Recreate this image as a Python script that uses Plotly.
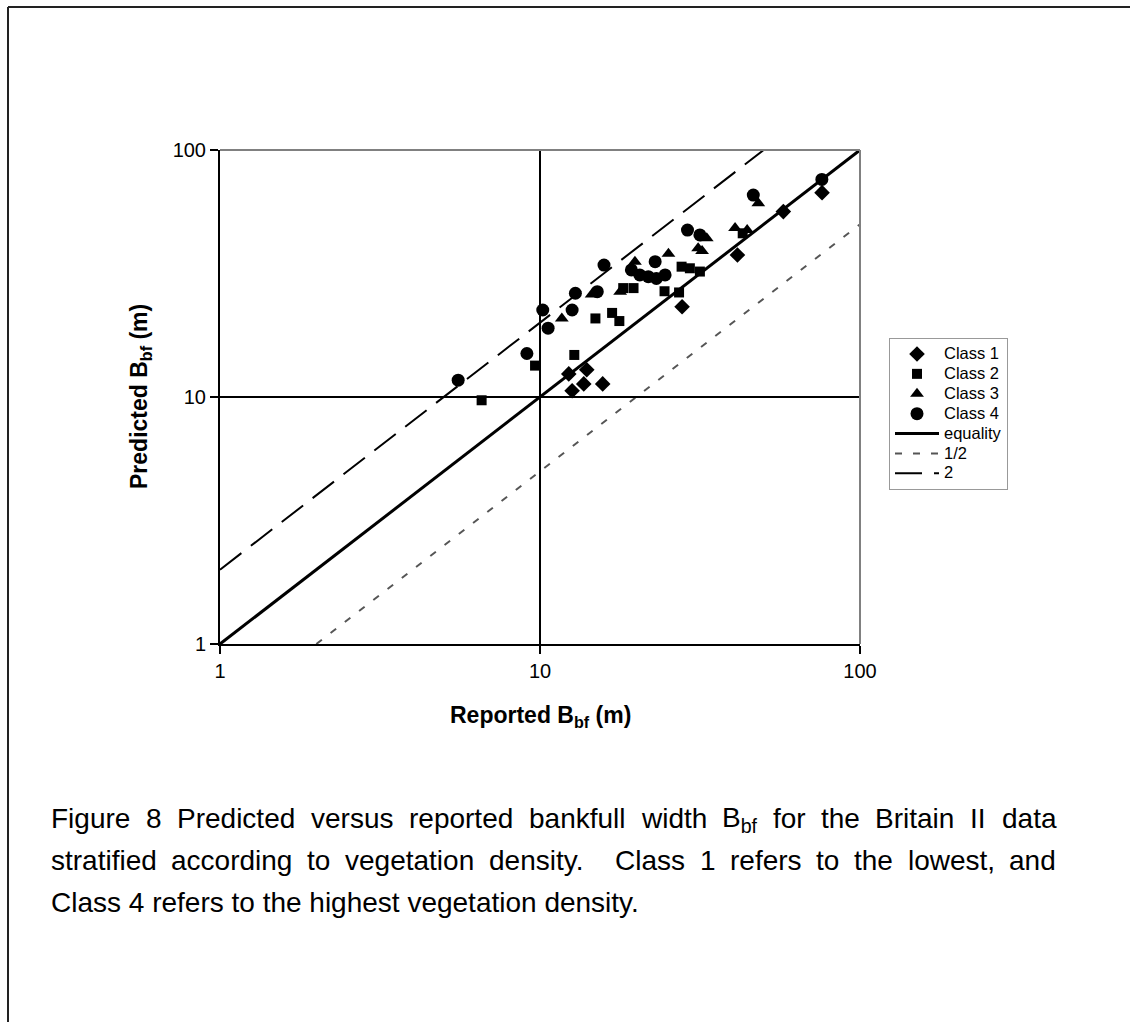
import plotly.graph_objects as go

# ---- data ----
c1_x = [12.3, 14.0, 13.7, 15.7, 12.6, 27.8, 41.4, 57.6, 76.1]
c1_y = [12.4, 12.9, 11.3, 11.3, 10.6, 23.2, 37.6, 56.3, 67.2]

c2_x = [6.57, 9.65, 12.8, 14.9, 16.8, 17.7, 18.2, 19.6, 24.5, 27.2, 27.7, 29.4, 31.6, 43.0]
c2_y = [9.7, 13.4, 14.8, 20.8, 21.9, 20.3, 27.6, 27.6, 26.8, 26.5, 33.7, 33.2, 32.2, 46.0]

c3_x = [11.7, 14.5, 17.8, 19.8, 25.2, 31.2, 32.1, 33.2, 40.7, 44.4, 48.1]
c3_y = [20.8, 26.0, 26.7, 35.3, 38.0, 40.0, 39.0, 43.9, 48.3, 47.4, 60.9]

c4_x = [5.55, 9.1, 10.2, 10.6, 12.6, 12.9, 15.1, 15.85, 19.3, 20.5, 21.8, 22.9, 23.1, 24.6, 28.9, 31.6, 46.4, 76.0]
c4_y = [11.7, 15.0, 22.5, 19.0, 22.5, 26.3, 26.7, 34.2, 32.7, 31.2, 30.7, 35.3, 30.2, 31.2, 47.4, 45.3, 65.7, 76.0]

eq_x = [1, 100]
eq_y = [1, 100]
half_x = [2, 100]
half_y = [1, 50]
dbl_x = [1, 50]
dbl_y = [2, 100]

tick_vals = [1, 10, 100]
tick_text = ["1", "10", "100"]

caption_lines = [
    "Figure 8 Predicted versus reported bankfull width B<sub>bf</sub> for the Britain II data",
    "stratified according to vegetation density.  Class 1 refers to the lowest, and",
    "Class 4 refers to the highest vegetation density.",
]

FONT = "Liberation Sans, Arial, sans-serif"

# plot-area geometry in pixels
L, R, T, B = 220, 860, 150, 644
PW, PH = R - L, B - T


def px_x(p):
    return (p - L) / PW


def px_y(p):
    return (B - p) / PH


# Arial / Liberation Sans advance widths (per 1000 em) for caption justification
AW = {' ': 278, 'a': 556, 'b': 556, 'c': 500, 'd': 556, 'e': 556, 'f': 278, 'g': 556,
      'h': 556, 'i': 222, 'j': 222, 'k': 500, 'l': 222, 'm': 833, 'n': 556, 'o': 556,
      'p': 556, 'q': 556, 'r': 333, 's': 500, 't': 278, 'u': 556, 'v': 500, 'w': 722,
      'x': 500, 'y': 500, 'z': 500, 'B': 667, 'C': 722, 'F': 611, 'I': 278, 'P': 667,
      '.': 278, ',': 278, '/': 278}
for d in "0123456789":
    AW[d] = 556


def word_width(word, size):
    w = 0.0
    if "<sub>" in word:
        pre, tail = word.split("<sub>", 1)
        sub, post = tail.split("</sub>", 1)
        w += sum(AW.get(ch, 556) for ch in pre)
        w += 0.7 * sum(AW.get(ch, 556) for ch in sub)
        w += sum(AW.get(ch, 556) for ch in post)
    else:
        w += sum(AW.get(ch, 556) for ch in word)
    return w / 1000.0 * size


fig = go.Figure()

fig.add_trace(go.Scatter(x=c1_x, y=c1_y, mode="markers", name="Class 1",
                         marker=dict(symbol="diamond", size=12, color="black")))
fig.add_trace(go.Scatter(x=c2_x, y=c2_y, mode="markers", name="Class 2",
                         marker=dict(symbol="square", size=10, color="black")))
fig.add_trace(go.Scatter(x=c3_x, y=c3_y, mode="markers", name="Class 3",
                         marker=dict(symbol="triangle-up", size=12, color="black")))
fig.add_trace(go.Scatter(x=c4_x, y=c4_y, mode="markers", name="Class 4",
                         marker=dict(symbol="circle", size=13, color="black")))
fig.add_trace(go.Scatter(x=eq_x, y=eq_y, mode="lines", name="equality",
                         line=dict(color="black", width=3)))
fig.add_trace(go.Scatter(x=half_x, y=half_y, mode="lines", name="1/2",
                         line=dict(color="#555555", width=2, dash="7px,11px")))
fig.add_trace(go.Scatter(x=dbl_x, y=dbl_y, mode="lines", name="2",
                         line=dict(color="black", width=2, dash="27px,12px")))

# legend names with larger visible text but compact row spacing
for tr in fig.data:
    tr.name = '<span style="font-size:16.5px">' + tr.name + '</span>'

axis_common = dict(
    type="log", range=[0, 2], tickvals=tick_vals, ticktext=tick_text,
    showgrid=False, zeroline=False, showline=True, linecolor="black", linewidth=2,
    ticks="outside", ticklen=8, tickwidth=2, tickcolor="black",
    tickfont=dict(family=FONT, size=20, color="black"),
)
fig.update_xaxes(**axis_common)
fig.update_yaxes(**axis_common)

shapes = [
    # gridlines at 10
    dict(type="line", xref="x", yref="paper", x0=10, x1=10, y0=0, y1=1,
         line=dict(color="black", width=2)),
    dict(type="line", xref="paper", yref="y", x0=0, x1=1, y0=10, y1=10,
         line=dict(color="black", width=2)),
    # top and right plot borders (grey)
    dict(type="line", xref="paper", yref="paper", x0=0, x1=1, y0=1, y1=1,
         line=dict(color="#808080", width=2)),
    dict(type="line", xref="paper", yref="paper", x0=1, x1=1, y0=0, y1=1,
         line=dict(color="#808080", width=2)),
    # outer frame (top and left only)
    dict(type="line", xref="paper", yref="paper", x0=px_x(8), x1=px_x(1130),
         y0=px_y(7), y1=px_y(7), line=dict(color="#222222", width=2)),
    dict(type="line", xref="paper", yref="paper", x0=px_x(8), x1=px_x(8),
         y0=px_y(7), y1=px_y(1022), line=dict(color="#222222", width=2)),
]

annotations = [
    dict(text="<b>Reported B<sub>bf</sub> (m)</b>", xref="paper", yref="paper",
         x=px_x(540), y=px_y(716), showarrow=False, xanchor="center", yanchor="middle",
         font=dict(family=FONT, size=23, color="black")),
    dict(text="<b>Predicted B<sub>bf</sub> (m)</b>", xref="paper", yref="paper",
         x=px_x(140), y=px_y(397), showarrow=False, textangle=-90,
         xanchor="center", yanchor="middle",
         font=dict(family=FONT, size=23, color="black")),
]

CAP_SIZE = 28
CAP_LEFT, CAP_RIGHT = 50, 1055
cap_y = [818, 860, 902]
for i, line in enumerate(caption_lines):
    ypos = px_y(cap_y[i])
    if i < len(caption_lines) - 1:
        # justified line: place words individually
        parts = line.split(" ")
        words, weights = [], []
        for p in parts:
            if p == "":
                weights[-1] += 1
            else:
                words.append(p)
                weights.append(1)
        gap_w = weights[:-1]
        total_w = sum(word_width(w, CAP_SIZE) for w in words)
        unit = (CAP_RIGHT - CAP_LEFT - total_w) / sum(gap_w)
        x = CAP_LEFT
        for j, w in enumerate(words):
            annotations.append(dict(text=w, xref="paper", yref="paper",
                                    x=px_x(x - 1), y=ypos, showarrow=False,
                                    xanchor="left", yanchor="middle",
                                    yshift=-1.5 if "<sub>" in w else 0,
                                    font=dict(family=FONT, size=CAP_SIZE, color="black")))
            x += word_width(w, CAP_SIZE)
            if j < len(gap_w):
                x += unit * gap_w[j]
    else:
        annotations.append(dict(text=line, xref="paper", yref="paper",
                                x=px_x(CAP_LEFT - 1), y=ypos, showarrow=False,
                                xanchor="left", yanchor="middle",
                                font=dict(family=FONT, size=CAP_SIZE, color="black")))

fig.update_layout(
    width=1130, height=1022,
    margin=dict(l=L, r=1130 - R, t=T, b=1022 - B),
    plot_bgcolor="white", paper_bgcolor="white",
    shapes=shapes, annotations=annotations,
    showlegend=True,
    legend=dict(x=px_x(889), y=px_y(338), xanchor="left", yanchor="top",
                bgcolor="white", bordercolor="#999999", borderwidth=1,
                font=dict(family=FONT, size=13, color="black"),
                itemwidth=44, tracegroupgap=0),
)

fig.write_html("out.html")
